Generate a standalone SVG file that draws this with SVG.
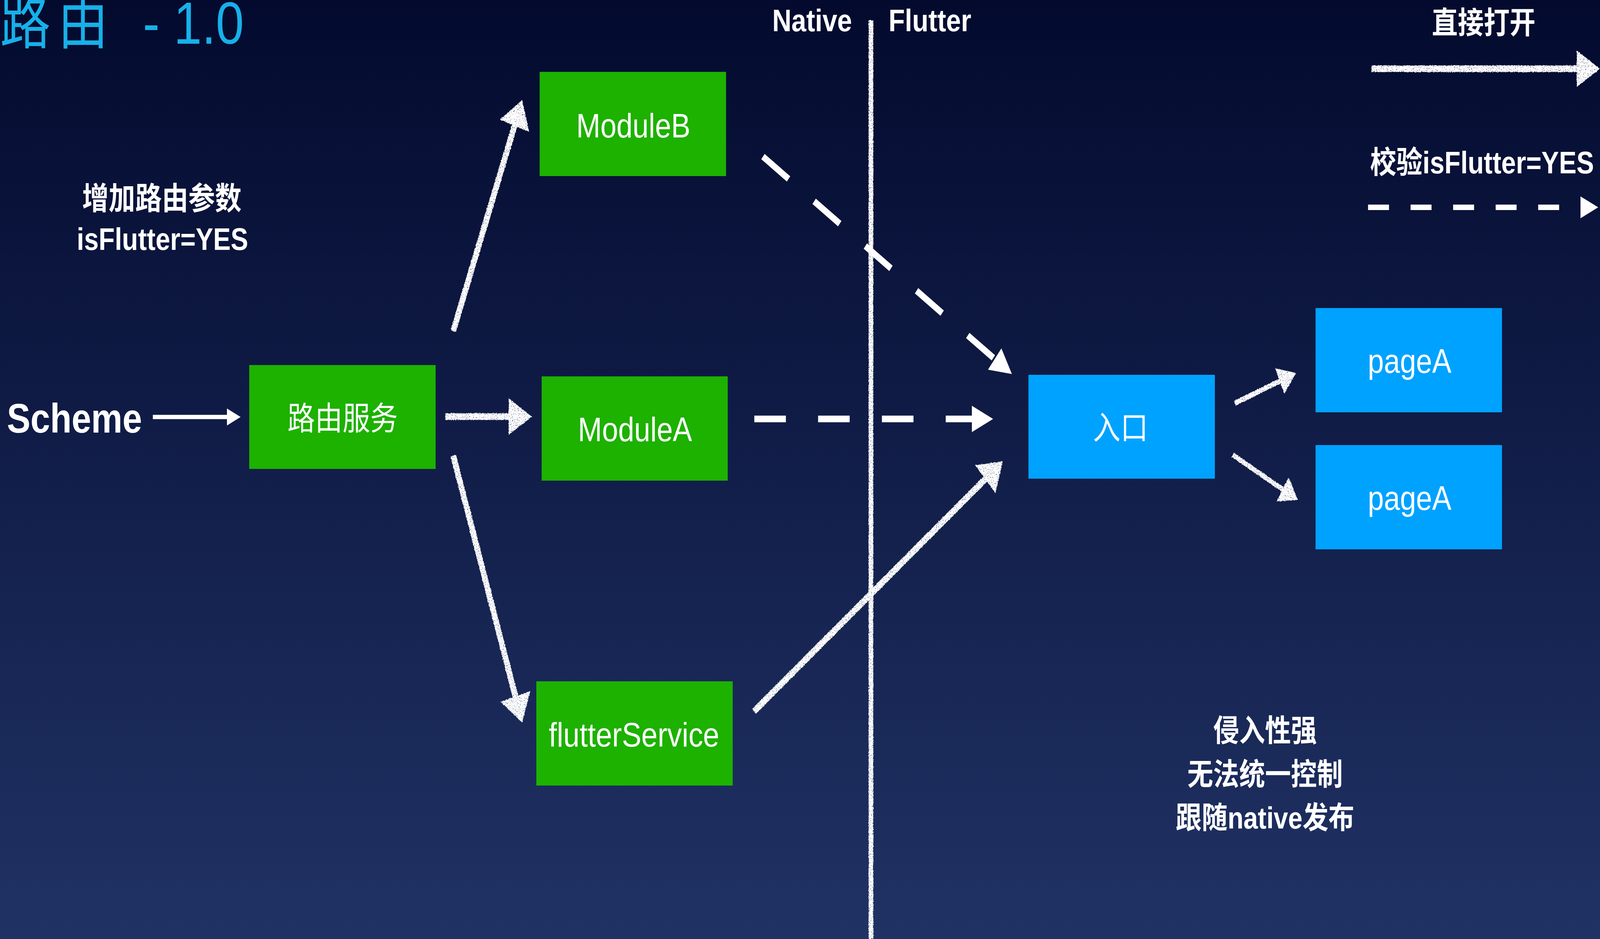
<svg xmlns="http://www.w3.org/2000/svg" width="4815" height="2405" viewBox="0 0 4815 2405" preserveAspectRatio="none" style="width:100vw;height:100vh;display:block">
<defs>
  <linearGradient id="bg" x1="0" y1="0" x2="0" y2="1">
    <stop offset="0" stop-color="#030a2e"/>
    <stop offset="1" stop-color="#203264"/>
  </linearGradient>
  <marker id="chalkHead" markerUnits="strokeWidth" markerWidth="4.1" markerHeight="5.5" viewBox="0 0 4.1 5.5" refX="1" refY="2.75" orient="auto">
    <path d="M0,0 L4.1,2.75 L0,5.5 Z" fill="#fff"/>
  </marker>
  <marker id="solidHead" markerUnits="strokeWidth" markerWidth="3.8" markerHeight="4" viewBox="0 0 3.8 4" refX="0.05" refY="2" orient="auto">
    <path d="M0,0 L3.8,2 L0,4 Z" fill="#fff"/>
  </marker>
  <filter id="chalk" filterUnits="userSpaceOnUse" x="0" y="0" width="4815" height="2405">
    <feTurbulence type="fractalNoise" baseFrequency="0.3" numOctaves="2" seed="4" result="noise"/>
    <feDisplacementMap in="SourceGraphic" in2="noise" scale="5" xChannelSelector="R" yChannelSelector="G" result="rough"/>
    <feTurbulence type="fractalNoise" baseFrequency="0.45" numOctaves="1" seed="11" result="grain"/>
    <feColorMatrix in="grain" type="matrix" values="0 0 0 0 0  0 0 0 0 0  0 0 0 0 0  -14 0 0 0 10" result="mask"/>
    <feComposite in="rough" in2="mask" operator="in"/>
  </filter>
</defs>
<style>
  .t{font-family:"Liberation Sans","Noto Sans CJK SC",sans-serif;fill:#fff}
  .b{font-weight:700}
  .c{text-anchor:middle}
  .green{fill:#1db100}
  .blue{fill:#00a2ff}
  .chalk{stroke:#fff;stroke-width:17;fill:none;stroke-linecap:butt;marker-end:url(#chalkHead)}
  .dash{stroke:#fff;stroke-width:17;fill:none;stroke-linecap:butt;marker-end:url(#solidHead)}
</style>

<rect x="0" y="0" width="4815" height="2405" fill="url(#bg)"/>

<!-- title -->
<text class="t" x="0" y="112" font-size="152" style="fill:#17b0e8"><tspan letter-spacing="22">路由 </tspan><tspan x="430">- 1.0</tspan></text>

<!-- Native / Flutter divider -->
<g id="divider" filter="url(#chalk)">
  <line x1="2621" y1="52" x2="2621" y2="2405" stroke="#fff" stroke-width="14"/>
</g>
<text class="t b" x="2324" y="80" font-size="80">Native</text>
<text class="t b" x="2674" y="80" font-size="80">Flutter</text>

<!-- annotations -->
<text class="t b c" x="487" y="536" font-size="80">增加路由参数</text>
<text class="t b c" x="489" y="640" font-size="79">isFlutter=YES</text>
<text class="t b" x="21" y="1108" font-size="106">Scheme</text>

<g id="notes">
  <text class="t b c" x="3807" y="1899" font-size="78">侵入性强</text>
  <text class="t b c" x="3807" y="2011" font-size="78">无法统一控制</text>
  <text class="t b c" x="3807" y="2122" font-size="78">跟随native发布</text>
</g>

<!-- legend -->
<g id="legend">
  <text class="t b c" x="4465" y="86" font-size="78">直接打开</text>
  <g filter="url(#chalk)">
    <line class="chalk" x1="4127" y1="176" x2="4762" y2="176"/>
  </g>
  <text class="t b c" x="4460" y="444" font-size="79">校验isFlutter=YES</text>
  <line x1="4117" y1="531" x2="4757" y2="531" stroke="#fff" stroke-width="14" stroke-dasharray="63 65" marker-end="url(#solidHead)"/>
</g>

<!-- nodes -->
<g id="node-router">
  <rect class="green" x="750" y="935" width="561" height="266"/>
  <text class="t c" x="1031" y="1101" font-size="83">路由服务</text>
</g>
<g id="node-moduleB">
  <rect class="green" x="1624" y="184" width="561" height="267"/>
  <text class="t c" x="1906" y="352" font-size="87">ModuleB</text>
</g>
<g id="node-moduleA">
  <rect class="green" x="1630" y="964" width="560" height="267"/>
  <text class="t c" x="1911" y="1130" font-size="87">ModuleA</text>
</g>
<g id="node-flutterService">
  <rect class="green" x="1614" y="1745" width="591" height="267"/>
  <text class="t c" x="1908" y="1912" font-size="88">flutterService</text>
</g>
<g id="node-entry">
  <rect class="blue" x="3095" y="960" width="561" height="266"/>
  <text class="t c" x="3372" y="1125" font-size="83">入口</text>
</g>
<g id="node-pageA1">
  <rect class="blue" x="3959" y="789" width="561" height="267"/>
  <text class="t c" x="4242" y="955" font-size="87">pageA</text>
</g>
<g id="node-pageA2">
  <rect class="blue" x="3959" y="1140" width="561" height="267"/>
  <text class="t c" x="4242" y="1306" font-size="87">pageA</text>
</g>

<!-- connectors -->
<g id="connectors">
  <line x1="460" y1="1068" x2="683" y2="1068" stroke="#fff" stroke-width="11" marker-end="url(#solidHead)"/>
  <line class="dash" x1="2270" y1="1073" x2="2925" y2="1073" stroke-dasharray="95 97"/>
  <line class="dash" x1="2296" y1="401" x2="2994" y2="920" stroke-dasharray="96 96"/>
  <g filter="url(#chalk)">
    <line class="chalk" x1="1364" y1="848" x2="1554" y2="306"/>
    <line class="chalk" x1="1340" y1="1067" x2="1548" y2="1067"/>
    <line class="chalk" x1="1364" y1="1167" x2="1556" y2="1800"/>
    <line class="chalk" x1="2269" y1="1822" x2="2978" y2="1216"/>
    <line class="chalk" x1="3716" y1="1033" x2="3863" y2="971" style="stroke-width:13"/>
    <line class="chalk" x1="3710" y1="1165" x2="3871" y2="1260" style="stroke-width:13"/>
  </g>
</g>
</svg>
